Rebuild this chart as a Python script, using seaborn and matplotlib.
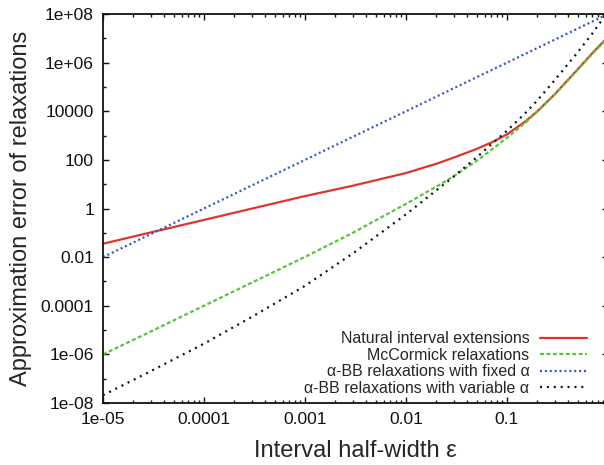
import matplotlib
matplotlib.use("Agg")
import matplotlib.pyplot as plt
import pandas as pd
import seaborn as sns
from matplotlib.ticker import FixedLocator, FixedFormatter, LogLocator, NullFormatter

# Interval half-widths at which the relaxation errors were evaluated
eps = [1e-5, 3e-5, 1e-4, 3e-4, 1e-3, 3e-3, 0.01, 0.02, 0.03, 0.05,
       0.07, 0.1, 0.15, 0.2, 0.3, 0.5, 0.7, 1.0]

natural_ext = [0.0355, 0.105, 0.339, 1.0, 3.24, 8.71, 28.8, 69.2, 126, 282,
               513, 1122, 3631, 1.0e4, 52500, 5.25e5, 2.45e6, 1.15e7]
mccormick = [1e-6, 8.9e-6, 1.0e-4, 9.1e-4, 0.0102, 0.102, 1.55, 7.94, 21.9, 91,
             257, 813, 3236, 9772, 50100, 5.0e5, 2.29e6, 1.05e7]
abb_variable = [2.09e-8, 2.09e-7, 2.75e-6, 3.55e-5, 6.6e-4, 0.0145, 0.575, 5.62,
                21.4, 126, 437, 1585, 7943, 28200, 2.0e5, 2.63e6, 1.58e7, 1.26e8]

eps_decades = [1e-5, 1e-4, 1e-3, 1e-2, 1e-1, 1.0]
abb_fixed = [0.01, 1, 100, 1e4, 1e6, 1e8]

series_labels = ["Natural interval extensions", "McCormick relaxations",
                 "α-BB relaxations with fixed α", "α-BB relaxations with variable α"]

x_ticks = [1e-5, 1e-4, 1e-3, 1e-2, 1e-1, 1.0]
x_ticklabels = ["1e-05", "0.0001", "0.001", "0.01", "0.1", "1"]
y_ticks = [1e-8, 1e-6, 1e-4, 1e-2, 1, 1e2, 1e4, 1e6, 1e8]
y_ticklabels = ["1e-08", "1e-06", "0.0001", "0.01", "1", "100", "10000", "1e+06", "1e+08"]
y_minor = [1e-7, 1e-5, 1e-3, 1e-1, 1e1, 1e3, 1e5, 1e7]

sns.set_style("ticks")
plt.rcParams["font.family"] = ["Liberation Sans", "DejaVu Sans"]

fig = plt.figure(figsize=(6.04, 4.65), dpi=100)
ax = fig.add_axes([0.1705, 0.1333, 0.8361, 0.8366])
ax.set_xscale("log")
ax.set_yscale("log")

styles = [
    ("#e0352b", None),
    ("#5cc43a", (1.8, 1.1)),
    ("#3553c8", (0.9, 1.3)),
    ("#111111", (0.9, 2.2)),
]
frames = [
    pd.DataFrame({"eps": eps, "err": natural_ext}),
    pd.DataFrame({"eps": eps, "err": mccormick}),
    pd.DataFrame({"eps": eps_decades, "err": abb_fixed}),
    pd.DataFrame({"eps": eps, "err": abb_variable}),
]
for df, label, (color, dashes) in zip(frames, series_labels, styles):
    sns.lineplot(data=df, x="eps", y="err", ax=ax, color=color, lw=1.6,
                 label=label, legend=False)
    line = ax.lines[-1]
    if dashes is not None:
        line.set_dashes(dashes)
        line.set_dash_capstyle("butt")

ax.set_xlim(1e-5, 1.0)
ax.set_ylim(1e-8, 1e8)

ax.xaxis.set_major_locator(FixedLocator(x_ticks))
ax.xaxis.set_major_formatter(FixedFormatter(x_ticklabels))
ax.xaxis.set_minor_locator(LogLocator(base=10, subs=[2, 3, 4, 5, 6, 7, 8, 9]))
ax.xaxis.set_minor_formatter(NullFormatter())
ax.yaxis.set_major_locator(FixedLocator(y_ticks))
ax.yaxis.set_major_formatter(FixedFormatter(y_ticklabels))
ax.yaxis.set_minor_locator(FixedLocator(y_minor))
ax.yaxis.set_minor_formatter(NullFormatter())

ax.tick_params(which="both", direction="in", top=True, right=True,
               colors="#111111", labelsize=12.5, width=1.0)
ax.tick_params(which="major", length=4.5, pad=6.5)
ax.tick_params(which="minor", length=2.3)
for s in ax.spines.values():
    s.set_linewidth(1.3)
    s.set_color("#111111")

ax.set_xlabel("Interval half-width ε", fontsize=17, labelpad=9)
ax.set_ylabel("Approximation error of relaxations", fontsize=17, labelpad=6)

ax.legend(loc="lower right", bbox_to_anchor=(0.958, 0.018), frameon=False,
          markerfirst=False, fontsize=11.5, handlelength=2.9,
          handletextpad=0.7, labelspacing=0.1, borderpad=0, borderaxespad=0)

fig.savefig("out.png", dpi=100)
